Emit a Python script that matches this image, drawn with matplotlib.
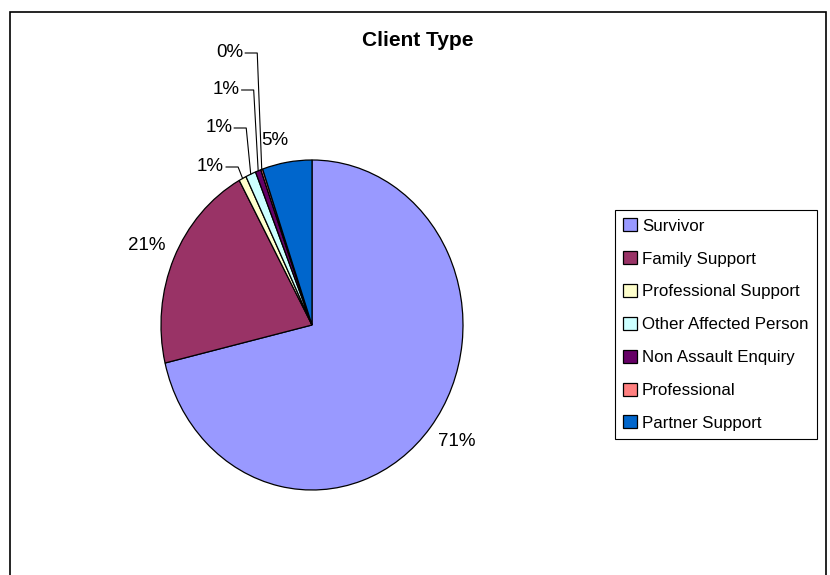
import matplotlib
matplotlib.use("Agg")
import matplotlib.pyplot as plt
import matplotlib.transforms as mtransforms
import numpy as np
from matplotlib.patches import Rectangle

CATEGORIES = [
    "Survivor",
    "Family Support",
    "Professional Support",
    "Other Affected Person",
    "Non Assault Enquiry",
    "Professional",
    "Partner Support",
]
SHARES = [71.3, 20.7, 0.8, 1.1, 0.6, 0.2, 5.3]
COLOURS = ["#9999FF", "#993366", "#FFFFCC", "#CCFFFF", "#660066", "#FF8080", "#0066CC"]

# pixel rows for the stacked labels of the thin slices (indices 2..5)
SMALL_LABEL_ROWS = [167, 128, 90, 53]

W, H = 830, 575
CX, CY, RX, RY = 312, 325, 151, 165  # pie centre / radii in pixels (slightly stretched)

plt.rcParams["font.family"] = ["Liberation Sans", "DejaVu Sans"]

fig = plt.figure(figsize=(W / 100, H / 100), dpi=100)
ax = fig.add_axes([(CX - RX) / W, 1 - (CY + RY) / H, 2 * RX / W, 2 * RY / H])
wedges, _ = ax.pie(
    SHARES,
    colors=COLOURS,
    startangle=90,
    counterclock=False,
    wedgeprops=dict(edgecolor="black", linewidth=0.9),
)
ax.set_aspect("auto")
ax.set_xlim(-1, 1)
ax.set_ylim(-1, 1)
ax.axis("off")
for w in wedges:
    w.set_clip_on(False)


def px_to_data(px, py):
    return (px - CX) / RX, (CY - py) / RY


nudge = mtransforms.offset_copy(ax.transData, fig=fig, x=3, y=0, units="dots")

small = 0
for w, share in zip(wedges, SHARES):
    mid = np.deg2rad((w.theta1 + w.theta2) / 2)
    x, y = np.cos(mid), np.sin(mid)
    label = f"{round(share):.0f}%"
    if share >= 2:
        steep = abs(x) < 0.3
        r = 1.08 if steep else 1.06
        ha = "left" if x > 0.1 else ("right" if x < -0.1 else "center")
        va = "bottom" if y > 0.1 else ("top" if y < -0.1 else "center")
        ax.text(r * x, r * y, label, ha=ha, va=va, fontsize=13.5, clip_on=False,
                transform=nudge if steep else ax.transData)
    else:
        _, ly = px_to_data(0, SMALL_LABEL_ROWS[small])
        elbow = x - 4.5 / RX
        tx = elbow - 14 / RX
        ax.plot([tx + 2 / RX, elbow, x], [ly, ly, y], color="black", lw=0.8, clip_on=False)
        ax.text(tx, ly, label, ha="right", va="center", fontsize=13.5, clip_on=False)
        small += 1

fig.text(418 / W, 1 - 40 / H, "Client Type", ha="center", va="center",
         fontsize=15, fontweight="bold")

leg = fig.legend(
    wedges,
    CATEGORIES,
    loc="upper left",
    bbox_to_anchor=(615 / W, 1 - 210 / H),
    bbox_transform=fig.transFigure,
    frameon=True,
    fancybox=False,
    edgecolor="black",
    framealpha=1,
    fontsize=12.2,
    handlelength=0.8,
    handleheight=0.8,
    handletextpad=0.3,
    labelspacing=1.03,
    borderpad=0.5,
    borderaxespad=0,
)
leg.get_frame().set_linewidth(0.8)

fig.add_artist(Rectangle((10 / W, -0.1), (826 - 10) / W, 1 - 12 / H + 0.1,
                         transform=fig.transFigure, fill=False,
                         edgecolor="black", lw=1.2))

fig.savefig("out.png", dpi=100)
